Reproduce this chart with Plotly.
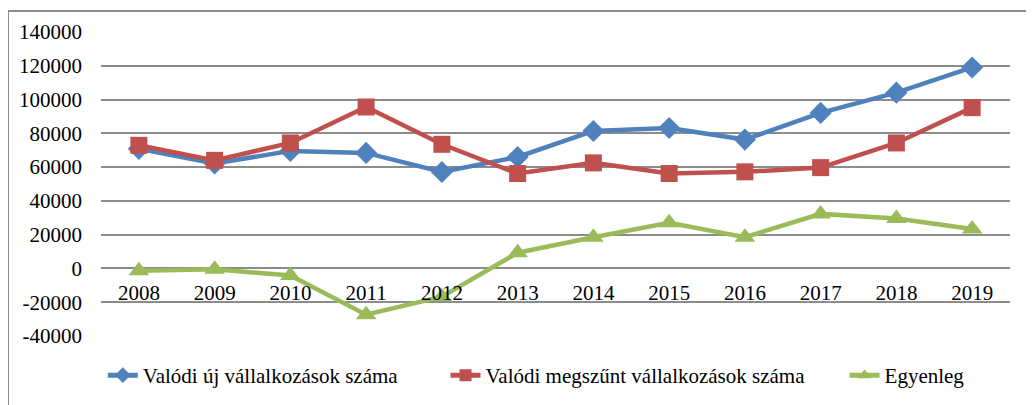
import plotly.graph_objects as go

years = ["2008", "2009", "2010", "2011", "2012", "2013",
         "2014", "2015", "2016", "2017", "2018", "2019"]
uj = [70800, 62100, 69600, 68400, 57100, 66000,
      81400, 83200, 76300, 92100, 104100, 119000]
megszunt = [72900, 64000, 74300, 95600, 73500, 56200,
            62500, 56200, 57200, 59700, 74300, 95200]
egyenleg = [-1400, -500, -4200, -27400, -16700, 9300,
            18500, 27000, 18500, 32300, 29600, 23300]

y_ticks = list(range(-40000, 140001, 20000))
y_labels = [str(v) for v in y_ticks]  # plain hyphen minus, as in the source

FONT = "Liberation Serif"
FS = 21

fig = go.Figure()
fig.add_trace(go.Scatter(
    x=years, y=uj, name="Valódi új vállalkozások száma", legend="legend",
    mode="lines+markers", line=dict(color="#4F81BD", width=4.5),
    marker=dict(symbol="diamond", size=17, color="#4F81BD"),
))
fig.add_trace(go.Scatter(
    x=years, y=megszunt, name="Valódi megszűnt vállalkozások száma", legend="legend2",
    mode="lines+markers", line=dict(color="#C0504D", width=4.5),
    marker=dict(symbol="square", size=17, color="#C0504D"),
))
fig.add_trace(go.Scatter(
    x=years, y=egyenleg, name="Egyenleg", legend="legend3",
    mode="lines+markers", line=dict(color="#9BBB59", width=4.5),
    marker=dict(symbol="triangle-up", size=18, color="#9BBB59"),
))

# chart frame: only left and top edges show in the source
fig.add_shape(type="line", xref="paper", yref="paper",
              x0=-93/909, x1=1.05, y0=1 + 21/304, y1=1 + 21/304,
              line=dict(color="#8c8c8c", width=2))
fig.add_shape(type="line", xref="paper", yref="paper",
              x0=-93/909, x1=-93/909, y0=1 + 21/304, y1=-0.3,
              line=dict(color="#8c8c8c", width=2))

leg = dict(orientation="h", y=-0.13, yanchor="middle", xanchor="left",
           font=dict(size=FS, family=FONT), bgcolor="rgba(0,0,0,0)",
           itemsizing="constant")

# page body has an 8px margin, so margins are shifted to compensate
fig.update_layout(
    width=1034, height=405,
    margin=dict(l=93, r=32, t=24, b=77),
    paper_bgcolor="white", plot_bgcolor="white",
    font=dict(family=FONT, color="black", size=FS),
    showlegend=True,
    legend=dict(leg, x=0.002),
    legend2=dict(leg, x=0.379),
    legend3=dict(leg, x=0.818),
    xaxis=dict(type="category", range=[-0.5, 11.5], showgrid=False, zeroline=False,
               showline=False, anchor="free", position=40000 / 180000,
               ticks="", ticklabelstandoff=10, tickfont=dict(size=FS, family=FONT)),
    yaxis=dict(range=[-40000, 140000], tickvals=y_ticks, ticktext=y_labels,
               showgrid=True, gridcolor="#8c8c8c", gridwidth=1.5,
               zeroline=False, showline=False, ticks="", automargin=False,
               ticklabelstandoff=18, tickfont=dict(size=FS, family=FONT, color="black")),
)

fig.write_html("out.html")
